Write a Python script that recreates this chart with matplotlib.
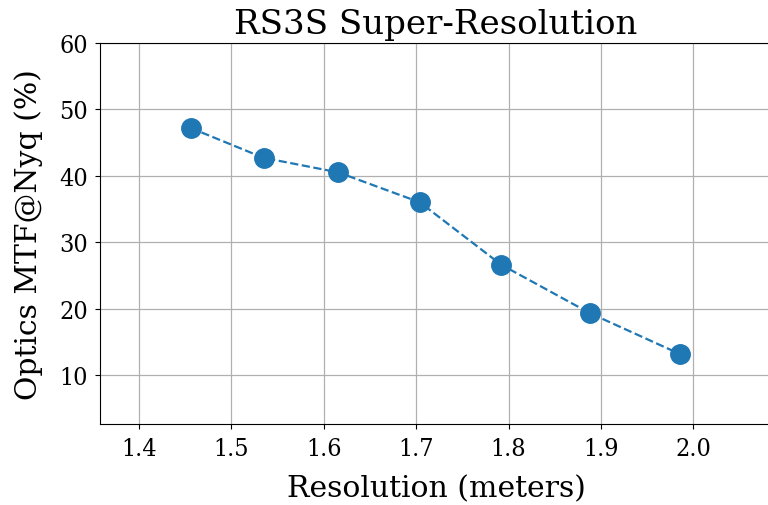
import matplotlib
matplotlib.use("Agg")
import matplotlib.pyplot as plt

# Data
resolution = [1.456, 1.535, 1.616, 1.704, 1.792, 1.888, 1.986]
mtf_nyq = [47.2, 42.7, 40.5, 36.0, 26.6, 19.3, 13.1]
x_ticks = [1.4, 1.5, 1.6, 1.7, 1.8, 1.9, 2.0]
y_ticks = [10, 20, 30, 40, 50, 60]

plt.rcParams['font.family'] = 'DejaVu Serif'

fig = plt.figure(figsize=(7.68, 5.06), dpi=100)
ax = fig.add_axes([100 / 768, 81 / 506, 672 / 768, 381 / 506])
ax.plot(resolution, mtf_nyq, 'o--', color='tab:blue', markersize=14, linewidth=1.6)
ax.set_xlim(1.358, 2.085)
ax.set_ylim(2.6, 60)
ax.set_xticks(x_ticks)
ax.set_yticks(y_ticks)
ax.grid(True, color='#b0b0b0', linewidth=0.9)
ax.tick_params(axis='x', pad=6)
ax.tick_params(axis='y', pad=5)
for lab in ax.get_xticklabels() + ax.get_yticklabels():
    lab.set_fontsize(18)
    lab.set_fontstretch('condensed')
ax.set_xlabel('Resolution (meters)', fontsize=21.5, labelpad=10)
ax.set_ylabel('Optics MTF@Nyq (%)', fontsize=21.5, labelpad=12)
ax.set_title('RS3S Super-Resolution', fontsize=24.5, pad=7)
fig.savefig('out.png', dpi=100)
